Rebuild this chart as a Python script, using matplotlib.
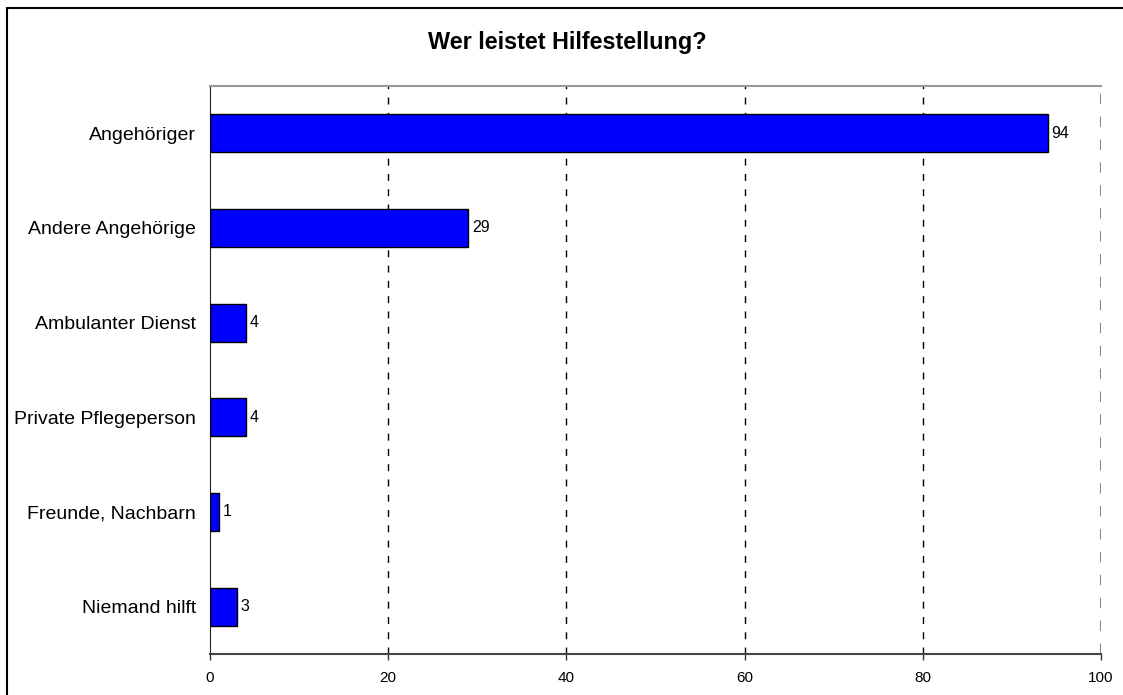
import matplotlib
matplotlib.use('Agg')
import matplotlib.pyplot as plt
from matplotlib.patches import Rectangle

# Daten
kategorien = ['Angehöriger', 'Andere Angehörige', 'Ambulanter Dienst',
              'Private Pflegeperson', 'Freunde, Nachbarn', 'Niemand hilft']
werte = [94, 29, 4, 4, 1, 3]
x_ticks = [0, 20, 40, 60, 80, 100]

plt.rcParams['font.family'] = ['Liberation Sans', 'DejaVu Sans']

W, H = 1123, 695
fig = plt.figure(figsize=(W / 100, H / 100), dpi=100)
ax = fig.add_axes([210 / W, 1 - 654 / H, (1101 - 210) / W, (654 - 86) / H])

pos = list(range(len(kategorien)))
ax.barh(pos, werte, height=0.4, color='#0000ff', edgecolor='black', linewidth=1, zorder=3)

for p, v in zip(pos, werte):
    ax.annotate(str(v), (v, p), xytext=(3, 0), textcoords='offset points',
                va='center', ha='left', fontsize=11.5)

ax.set_xlim(0, 100)
ax.set_ylim(len(kategorien) - 0.5, -0.5)
ax.set_yticks(pos)
ax.set_yticklabels(kategorien, fontsize=14)
ax.set_xticks(x_ticks)
ax.set_xticklabels([str(t) for t in x_ticks], fontsize=11)
ax.tick_params(axis='y', length=0, pad=10)
ax.tick_params(axis='x', length=4, width=1, color='#333333', pad=8)

for t in x_ticks[1:-1]:
    ax.axvline(t, color='black', linewidth=1, dashes=(5, 6), zorder=1)
ax.axvline(100, color='#888888', linewidth=1.5, dashes=(5, 6), zorder=1)

ax.spines['left'].set_color('#222222')
ax.spines['bottom'].set_color('#444444')
ax.spines['bottom'].set_linewidth(1.5)
ax.spines['top'].set_color('#999999')
ax.spines['top'].set_linewidth(1.5)
ax.spines['right'].set_visible(False)

fig.text(567 / W, 1 - 43 / H, 'Wer leistet Hilfestellung?', ha='center', va='center',
         fontsize=16.8, fontweight='bold')

# Rahmen um das Diagramm
fig.patches.append(Rectangle((7 / W, -0.1), 1.2, 1 - 8 / H + 0.1, transform=fig.transFigure,
                             fill=False, edgecolor='black', linewidth=1.5))

fig.savefig('out.png', dpi=100)
